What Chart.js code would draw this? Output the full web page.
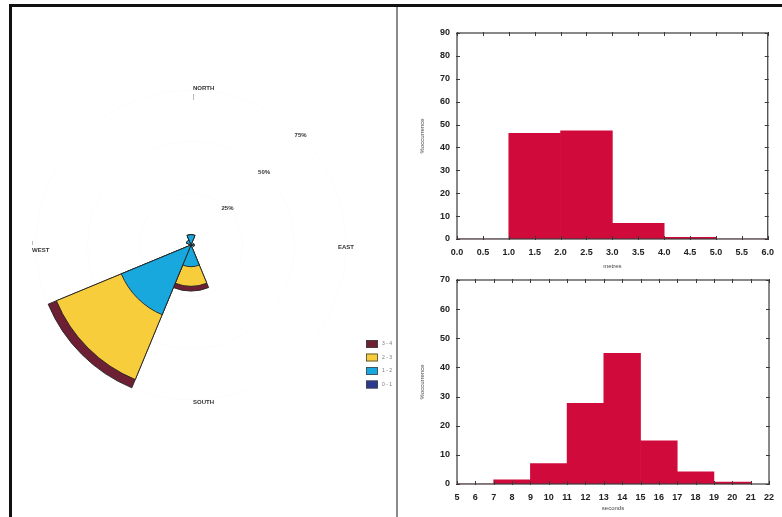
<!DOCTYPE html>
<html>
<head>
<meta charset="utf-8">
<title>Wave climate</title>
<script src="https://cdn.jsdelivr.net/npm/chart.js@4.4.1/dist/chart.umd.min.js"></script>
<style>
  html, body { margin: 0; padding: 0; background: #fff; }
  #page { position: relative; width: 782px; height: 517px; overflow: hidden; background: #fff; }
  canvas { position: absolute; }
  .rule { position: absolute; }
</style>
</head>
<body>
<div id="page">
  <div class="rule" style="left:9px; top:4px; width:773px; height:3px; background:#111"></div>
  <div class="rule" style="left:9px; top:4px; width:3px; height:513px; background:#111"></div>
  <div class="rule" style="left:396px; top:7px; width:2px; height:510px; background:#8a8a8a"></div>
  <canvas id="rose" width="384" height="510" style="left:12px; top:7px"></canvas>
  <canvas id="heights" width="382" height="260" style="left:400px; top:15px"></canvas>
  <canvas id="periods" width="382" height="255" style="left:400px; top:262px"></canvas>
</div>
<script>
// wave rose: % of records per direction, split by height class (m)
const directions = ['N', 'NE', 'E', 'SE', 'S', 'SW', 'W', 'NW'];
const heightClasses = ['0 - 1', '1 - 2', '2 - 3', '3 - 4'];
const height01 = [0, 0, 0, 0, 0, 0, 0, 0];
const height12 = [5, 0, 1.5, 0, 10.5, 36.5, 0, 2.5];
const height23 = [0, 0, 0, 0, 9.5, 34, 0, 0];
const height34 = [0, 0, 0, 0, 2.3, 4.3, 0, 0];
const ringValues = [25, 50, 75];
const compassLabels = ['NORTH', 'EAST', 'SOUTH', 'WEST'];

// wave height histogram (1 m bins)
const heightBinCentres = [0.5, 1.5, 2.5, 3.5, 4.5, 5.5];
const heightPercent = [0, 46.2, 47.3, 6.9, 0.7, 0];

// wave period histogram (2 s bins)
const periodBinCentres = [6, 8, 10, 12, 14, 16, 18, 20];
const periodPercent = [0, 1.4, 7.0, 27.7, 44.8, 14.8, 4.2, 0.7];

const classColours = ['#2b3a8f', '#18a8de', '#f8cd3c', '#6d1f33'];
const barRed = '#d10a3c';
const inkColour = '#222';

// running totals so each class ring sits on top of the one below
const classValues = [height01, height12, height23, height34];
const cumulative = classValues.map((_, k) =>
  directions.map((d, i) => classValues.slice(0, k + 1).reduce((s, arr) => s + arr[i], 0)));

const roseText = {
  id: 'roseText',
  afterDraw(chart) {
    const ctx = chart.ctx;
    const r = chart.scales.r;
    const cx = r.xCenter, cy = r.yCenter;
    ctx.save();
    ctx.fillStyle = '#333';
    ctx.font = 'bold 6px "Liberation Sans"';
    ctx.textAlign = 'center';
    ctx.textBaseline = 'middle';
    ringValues.forEach(v => {
      const d = r.getDistanceFromCenterForValue(v);
      ctx.fillText(v + '%', cx + d * Math.SQRT1_2, cy - d * Math.SQRT1_2);
    });
    const d = r.getDistanceFromCenterForValue(75);
    ctx.textAlign = 'left';
    ctx.fillText(compassLabels[0], cx + 2, cy - d - 2);
    ctx.fillText(compassLabels[1], cx + d - 8, cy + 2);
    ctx.fillText(compassLabels[2], cx + 2, cy + d + 2);
    ctx.fillText(compassLabels[3], cx - d - 4, cy + 5);

    // small compass ticks next to the axis labels
    ctx.strokeStyle = '#bbb';
    ctx.lineWidth = 1;
    ctx.beginPath();
    ctx.moveTo(cx + 2.5, cy - d + 4); ctx.lineTo(cx + 2.5, cy - d + 10);
    ctx.moveTo(cx - d - 3.5, cy - 4); ctx.lineTo(cx - d - 3.5, cy);
    ctx.stroke();

    // class key, largest class on top
    ctx.font = '5px "Liberation Sans"';
    const keyX = 354, keyY = 333;
    for (let k = heightClasses.length - 1, row = 0; k >= 0; k--, row++) {
      const y = keyY + row * 13.5;
      ctx.fillStyle = classColours[k];
      ctx.fillRect(keyX, y, 12, 8);
      ctx.strokeStyle = '#444';
      ctx.lineWidth = 0.8;
      ctx.strokeRect(keyX + 0.5, y + 0.5, 11, 7);
      ctx.fillStyle = '#777';
      ctx.fillText(heightClasses[k], keyX + 16, y + 4);
    }
    ctx.restore();
  }
};

new Chart(document.getElementById('rose'), {
  type: 'polarArea',
  data: {
    labels: directions,
    datasets: cumulative.map((vals, k) => ({
      label: heightClasses[k],
      data: vals,
      backgroundColor: classColours[k],
      borderColor: inkColour,
      borderWidth: ctx => (ctx.raw > 0 ? 0.9 : 0),
      clip: false
    }))
  },
  options: {
    responsive: false,
    animation: false,
    layout: { padding: { left: 24, top: 83, right: 50, bottom: 117 } },
    plugins: { legend: { display: false }, tooltip: { enabled: false } },
    scales: {
      r: {
        min: 0,
        max: 75,
        startAngle: -22.5,
        ticks: { display: false, stepSize: 25 },
        grid: { color: 'rgba(0,0,0,0.015)' },
        angleLines: { display: false },
        pointLabels: { display: false }
      }
    }
  },
  plugins: [roseText]
});

// closed frame with short inward ticks on every side
const plotFrame = {
  id: 'plotFrame',
  afterDraw(chart) {
    const { ctx, chartArea: a, scales: { x, y } } = chart;
    const t = 3;
    ctx.save();
    ctx.strokeStyle = '#3a3a3a';
    ctx.lineWidth = 1.2;
    ctx.strokeRect(a.left, a.top, a.right - a.left, a.bottom - a.top);
    ctx.lineWidth = 1;
    ctx.beginPath();
    x.ticks.forEach(tk => {
      const px = Math.round(x.getPixelForValue(tk.value)) + 0.5;
      ctx.moveTo(px, a.top - 1); ctx.lineTo(px, a.top + t);
      ctx.moveTo(px, a.bottom + 1); ctx.lineTo(px, a.bottom - t);
    });
    y.ticks.forEach(tk => {
      const py = Math.round(y.getPixelForValue(tk.value)) + 0.5;
      ctx.moveTo(a.left - 1, py); ctx.lineTo(a.left + t, py);
      ctx.moveTo(a.right + 1, py); ctx.lineTo(a.right - t, py);
    });
    ctx.stroke();
    ctx.restore();
  }
};

const tickFont = { family: 'Liberation Sans', size: 9, weight: 'bold' };
const titleFont = { family: 'Liberation Sans', size: 6 };

function histogram(id, centres, values, xMin, xMax, xStep, decimals, yMax, xTitle, xHeight) {
  return new Chart(document.getElementById(id), {
    type: 'bar',
    data: {
      datasets: [{
        data: centres.map((c, i) => ({ x: c, y: values[i] })),
        backgroundColor: barRed,
        borderWidth: 0,
        barThickness: 'flex',
        barPercentage: 1,
        categoryPercentage: 1
      }]
    },
    options: {
      responsive: false,
      animation: false,
      layout: { padding: { left: 19, right: 11, top: 18, bottom: 5 } },
      plugins: { legend: { display: false }, tooltip: { enabled: false } },
      scales: {
        x: {
          type: 'linear',
          offset: false,
          min: xMin,
          max: xMax,
          grid: { display: false, drawTicks: false },
          border: { display: false },
          ticks: {
            stepSize: xStep, autoSkip: false, maxRotation: 0, padding: 8,
            color: '#222', font: tickFont,
            callback: v => v.toFixed(decimals)
          },
          title: { display: true, text: xTitle, font: titleFont, color: '#444', padding: 0 },
          afterFit: s => { s.height = xHeight; }
        },
        y: {
          min: 0,
          max: yMax,
          grid: { display: false, drawTicks: false },
          border: { display: false },
          ticks: { stepSize: 10, padding: 7, color: '#222', font: tickFont },
          title: { display: true, text: '%occurrence', font: titleFont, color: '#444', padding: 0 },
          afterFit: s => { s.width = 38; }
        }
      }
    },
    plugins: [plotFrame]
  });
}

histogram('heights', heightBinCentres, heightPercent, 0, 6, 0.5, 1, 90, 'metres', 31);
histogram('periods', periodBinCentres, periodPercent, 5, 22, 1, 0, 70, 'seconds', 28);
</script>
</body>
</html>
